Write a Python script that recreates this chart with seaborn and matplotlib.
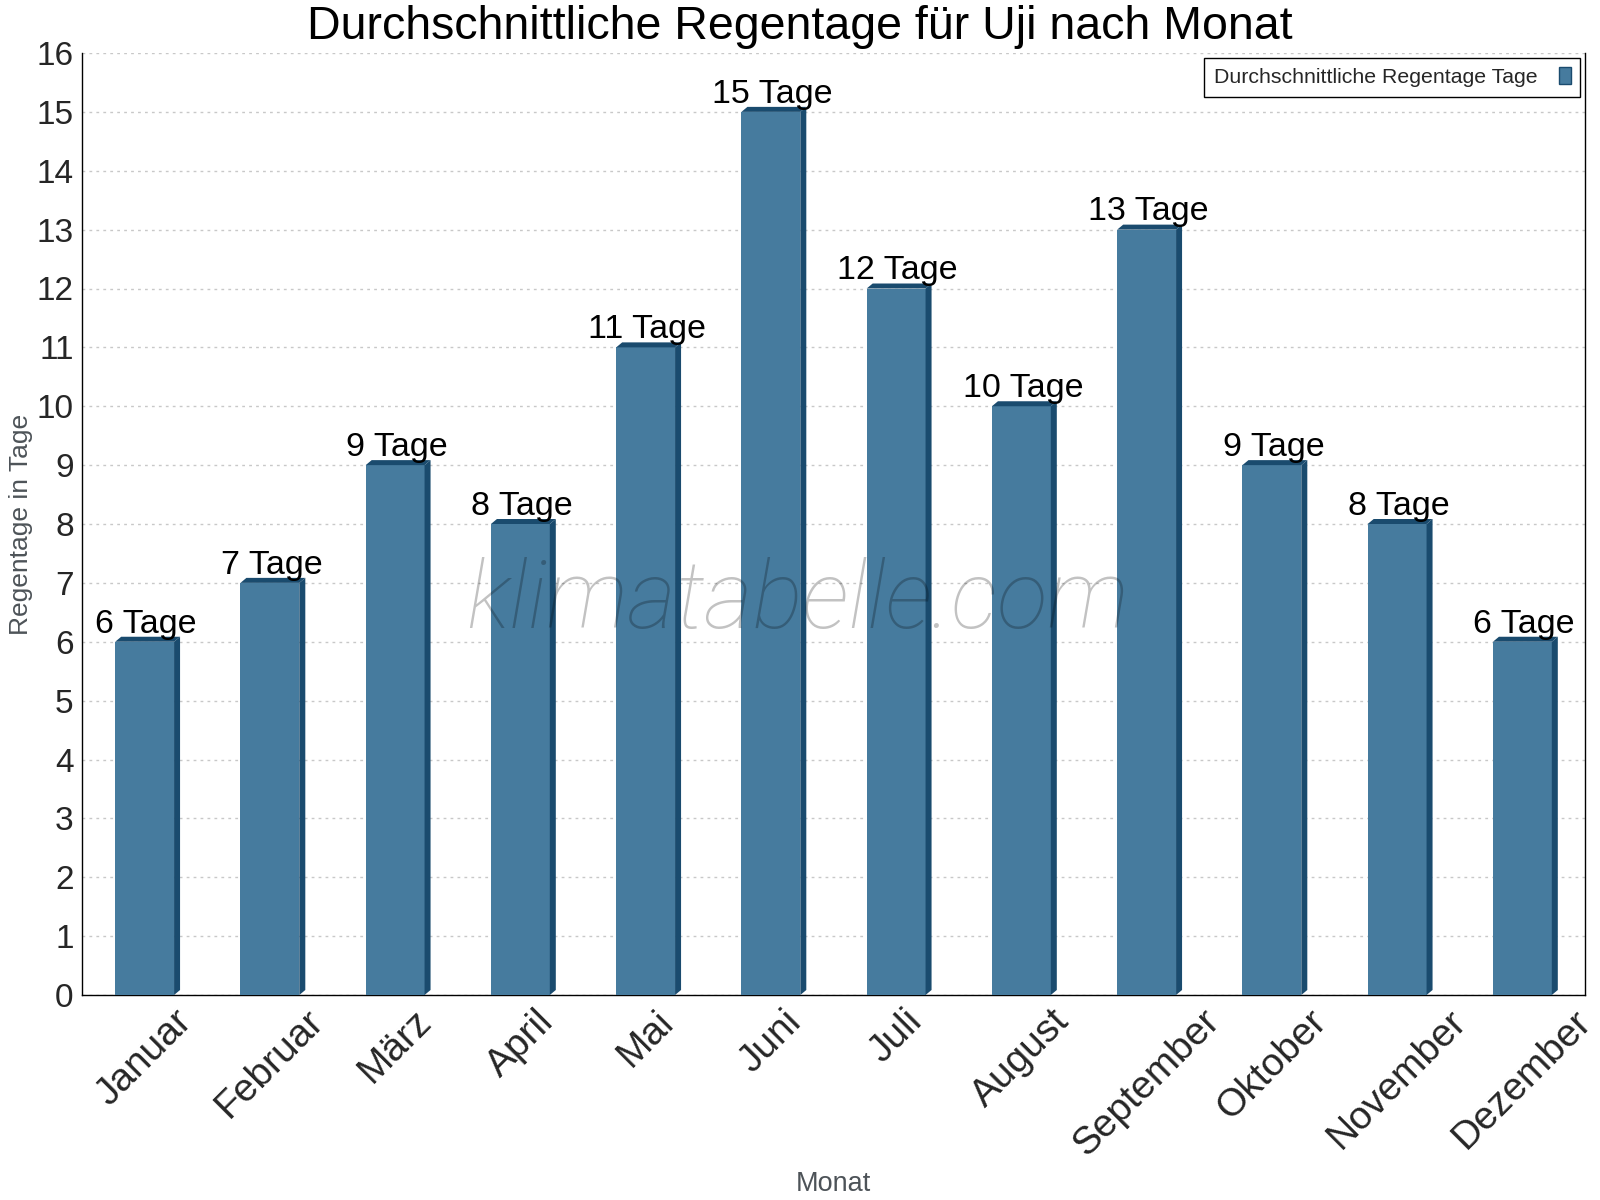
import numpy as np
import pandas as pd
import matplotlib
matplotlib.use("Agg")
import matplotlib.pyplot as plt
import seaborn as sns
from matplotlib.patches import Polygon, Patch

months = ["Januar", "Februar", "März", "April", "Mai", "Juni", "Juli",
          "August", "September", "Oktober", "November", "Dezember"]
rain_days = [6, 7, 9, 8, 11, 15, 12, 10, 13, 9, 8, 6]
y_ticks = list(range(0, 17))

title = "Durchschnittliche Regentage für Uji nach Monat"
xlabel = "Monat"
ylabel = "Regentage in Tage"
legend_label = "Durchschnittliche Regentage Tage"
watermark = "klimatabelle.com"

FRONT = "#467b9e"
DARK = "#1a4b6e"
LABEL_GRAY = "#4d5358"

sns.set_style("white")
plt.rcParams["font.family"] = ["Liberation Sans", "DejaVu Sans"]

W, H = 1600, 1200
fig = plt.figure(figsize=(16, 12), dpi=100)
L, R, T, B = 82, 1585, 53, 995
ax = fig.add_axes([L / W, 1 - B / H, (R - L) / W, (B - T) / H])

df = pd.DataFrame({"Monat": months, "Regentage": rain_days})
sns.barplot(data=df, x="Monat", y="Regentage", color=FRONT, width=0.47,
            saturation=1, ax=ax, zorder=3, edgecolor="none")

ax.set_xlim(-0.5, 11.5)
ax.set_ylim(0, 16)

px_x = (R - L) / 12.0
px_y = (B - T) / 16.0
dx = 6 / px_x
dy = 5 / px_y

for p, v in zip(list(ax.patches), rain_days):
    x0 = p.get_x()
    x1 = x0 + p.get_width()
    h = p.get_height()
    side = Polygon([(x1, 0), (x1 + dx, dy), (x1 + dx, h + dy), (x1, h)],
                   closed=True, facecolor=DARK, edgecolor="none", zorder=3)
    top = Polygon([(x0, h), (x0 + dx, h + dy), (x1 + dx, h + dy), (x1, h)],
                  closed=True, facecolor=DARK, edgecolor="none", zorder=3)
    ax.add_patch(side)
    ax.add_patch(top)
    ax.annotate(f"{v} Tage", xy=((x0 + x1) / 2 + dx / 2, h + dy),
                xytext=(-1, 3), textcoords="offset points",
                ha="center", va="baseline", fontsize=24.5, color="black", zorder=6)

# grid
ax.set_yticks(y_ticks)
ax.yaxis.grid(True, color="#c8c8c8", linestyle=(0, (2, 3)), linewidth=1)
ax.xaxis.grid(False)
ax.set_axisbelow(True)

# ticks
ax.set_xticks(range(12))
ax.set_xticklabels(months, rotation=45, ha="center", fontsize=28)
ax.set_xticks(np.arange(-0.5, 12, 1), minor=True)
ax.tick_params(axis="x", which="major", length=0, pad=6)
ax.tick_params(axis="x", which="minor", length=9, direction="inout", width=1, color="black")
ax.tick_params(axis="y", which="major", length=6, direction="out", width=1,
               color="black", labelsize=24, pad=0)

for s in ["left", "bottom", "right"]:
    ax.spines[s].set_visible(True)
    ax.spines[s].set_color("black")
    ax.spines[s].set_linewidth(1)
ax.spines["top"].set_visible(False)

ax.set_xlabel(xlabel, fontsize=19.5, color=LABEL_GRAY, va="top")
ax.xaxis.set_label_coords(0.5, -0.187)
ax.set_ylabel(ylabel, fontsize=19, color=LABEL_GRAY, va="center")
ax.yaxis.set_label_coords(-0.0405, 0.5)

fig.text(0.5, 1 - 39 / H, title, ha="center", va="baseline", fontsize=33.5, color="black")

ax.text(0.476, 0.39, watermark, transform=ax.transAxes, ha="center", va="baseline",
        fontsize=67.5, family=["Roboto", "DejaVu Sans"], fontweight="light",
        style="italic", color="black", alpha=0.24, zorder=5)

handle = Patch(facecolor=FRONT, edgecolor=DARK, linewidth=1)
leg = ax.legend([handle], [legend_label], loc="upper right", bbox_to_anchor=(1, 1),
                borderaxespad=0.23, fontsize=15.3, frameon=True, fancybox=False,
                markerfirst=False, handlelength=0.55, handleheight=0.85,
                handletextpad=1.0, borderpad=0.45)
leg.get_frame().set_edgecolor("black")
leg.get_frame().set_linewidth(1)
leg.get_frame().set_alpha(1)

fig.savefig("out.png", dpi=100)
